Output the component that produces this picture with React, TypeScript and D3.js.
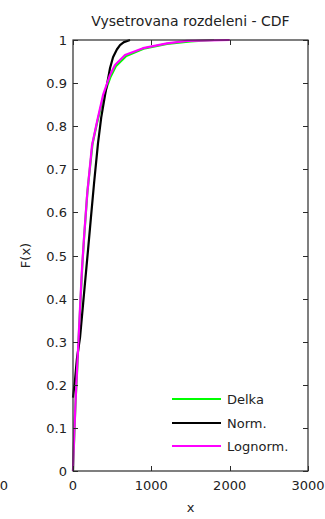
import React, { useRef, useEffect } from 'react';
import * as d3 from 'd3';

// empirical CDF of the measured lengths
const delkaX = [0, 8, 20, 35, 55, 70, 95, 120, 145, 185, 250, 310, 390, 480, 550, 680, 900, 1200, 1500, 1800];
const delkaF = [0, 0.04, 0.1, 0.17, 0.24, 0.3, 0.39, 0.48, 0.55, 0.65, 0.76, 0.81, 0.87, 0.915, 0.94, 0.963, 0.98, 0.991, 0.997, 1.0];

// fitted normal CDF
const normX = [0, 25, 50, 90, 130, 160, 192, 230, 270, 319, 360, 409, 473, 511, 560, 600, 650, 728];
const normF = [0.17, 0.21, 0.26, 0.31, 0.39, 0.45, 0.513, 0.59, 0.67, 0.76, 0.82, 0.872, 0.935, 0.96, 0.978, 0.988, 0.995, 1.0];

// fitted lognormal CDF
const lognX = [0, 5, 15, 30, 50, 64, 90, 115, 140, 180, 243, 306, 383, 473, 536, 664, 894, 1200, 1456, 2000];
const lognF = [0, 0.03, 0.08, 0.15, 0.23, 0.28, 0.38, 0.47, 0.54, 0.64, 0.756, 0.81, 0.872, 0.919, 0.942, 0.965, 0.981, 0.992, 0.998, 1.0];

const xTicks = [0, 1000, 2000, 3000];
const yTicks = [0, 0.1, 0.2, 0.3, 0.4, 0.5, 0.6, 0.7, 0.8, 0.9, 1];

const seriesNames = ['Delka', 'Norm.', 'Lognorm.'];
const seriesColors = ['#00ff00', '#000000', '#ff00ff'];

const W = 325;
const H = 519;
const FONT = '"DejaVu Sans", sans-serif';

const CdfChart: React.FC = () => {
  const svgRef = useRef<SVGSVGElement | null>(null);

  useEffect(() => {
    const svg = d3.select(svgRef.current);
    svg.selectAll('*').remove();

    const left = 73, right = 308, top = 40, bottom = 471;
    const x = d3.scaleLinear().domain([0, 3000]).range([left, right]);
    const y = d3.scaleLinear().domain([0, 1]).range([bottom, top]);
    const tick = 5;
    const axisColor = '#2a2a2a';

    svg.append('rect').attr('width', W).attr('height', H).attr('fill', '#fff');

    const line = d3
      .line<[number, number]>()
      .x(d => x(d[0]))
      .y(d => y(d[1]));

    const data = [
      d3.zip(delkaX, delkaF) as [number, number][],
      d3.zip(normX, normF) as [number, number][],
      d3.zip(lognX, lognF) as [number, number][],
    ];

    data.forEach((pts, i) => {
      svg
        .append('path')
        .attr('d', line(pts)!)
        .attr('fill', 'none')
        .attr('stroke', seriesColors[i])
        .attr('stroke-width', 2.2)
        .attr('stroke-linejoin', 'round');
    });

    // box
    svg
      .append('rect')
      .attr('x', left)
      .attr('y', top)
      .attr('width', right - left)
      .attr('height', bottom - top)
      .attr('fill', 'none')
      .attr('stroke', axisColor)
      .attr('stroke-width', 1.2);

    // x ticks
    xTicks.forEach(t => {
      const px = Math.round(x(t)) + 0.5;
      svg.append('line').attr('x1', px).attr('x2', px).attr('y1', bottom).attr('y2', bottom - tick).attr('stroke', axisColor);
      svg.append('line').attr('x1', px).attr('x2', px).attr('y1', top).attr('y2', top + tick).attr('stroke', axisColor);
      svg
        .append('text')
        .attr('x', x(t))
        .attr('y', 490)
        .attr('text-anchor', 'middle')
        .attr('font-family', FONT)
        .attr('font-size', 13)
        .attr('fill', '#222')
        .text(t);
    });

    // y ticks
    yTicks.forEach(t => {
      const py = Math.round(y(t)) + 0.5;
      svg.append('line').attr('x1', left).attr('x2', left + tick).attr('y1', py).attr('y2', py).attr('stroke', axisColor);
      svg.append('line').attr('x1', right).attr('x2', right - tick).attr('y1', py).attr('y2', py).attr('stroke', axisColor);
      svg
        .append('text')
        .attr('x', 67)
        .attr('y', y(t) + 5)
        .attr('text-anchor', 'end')
        .attr('font-family', FONT)
        .attr('font-size', 13)
        .attr('fill', '#222')
        .text(t);
    });

    // stray tick label at far left
    svg
      .append('text')
      .attr('x', 4)
      .attr('y', 490)
      .attr('text-anchor', 'middle')
      .attr('font-family', FONT)
      .attr('font-size', 13)
      .attr('fill', '#222')
      .text('0');

    // title and axis labels
    svg
      .append('text')
      .attr('x', (left + right) / 2)
      .attr('y', 26)
      .attr('text-anchor', 'middle')
      .attr('font-family', FONT)
      .attr('font-size', 14)
      .attr('fill', '#222')
      .text('Vysetrovana rozdeleni - CDF');

    svg
      .append('text')
      .attr('x', (left + right) / 2)
      .attr('y', 512)
      .attr('text-anchor', 'middle')
      .attr('font-family', FONT)
      .attr('font-size', 13)
      .attr('fill', '#222')
      .text('x');

    svg
      .append('text')
      .attr('transform', `translate(30,${(top + bottom) / 2}) rotate(-90)`)
      .attr('text-anchor', 'middle')
      .attr('font-family', FONT)
      .attr('font-size', 13)
      .attr('fill', '#222')
      .text('F(x)');

    // legend
    const legendY = [399, 423, 446];
    seriesNames.forEach((name, i) => {
      svg
        .append('line')
        .attr('x1', 172)
        .attr('x2', 221)
        .attr('y1', legendY[i])
        .attr('y2', legendY[i])
        .attr('stroke', seriesColors[i])
        .attr('stroke-width', 2.2);
      svg
        .append('text')
        .attr('x', 227)
        .attr('y', legendY[i] + 5)
        .attr('font-family', FONT)
        .attr('font-size', 13)
        .attr('fill', '#222')
        .text(name);
    });
  }, []);

  return <svg ref={svgRef} width={W} height={H} style={{ position: 'absolute', left: 0, top: 0 }}></svg>;
};

export default function App() {
  return <CdfChart />;
}
